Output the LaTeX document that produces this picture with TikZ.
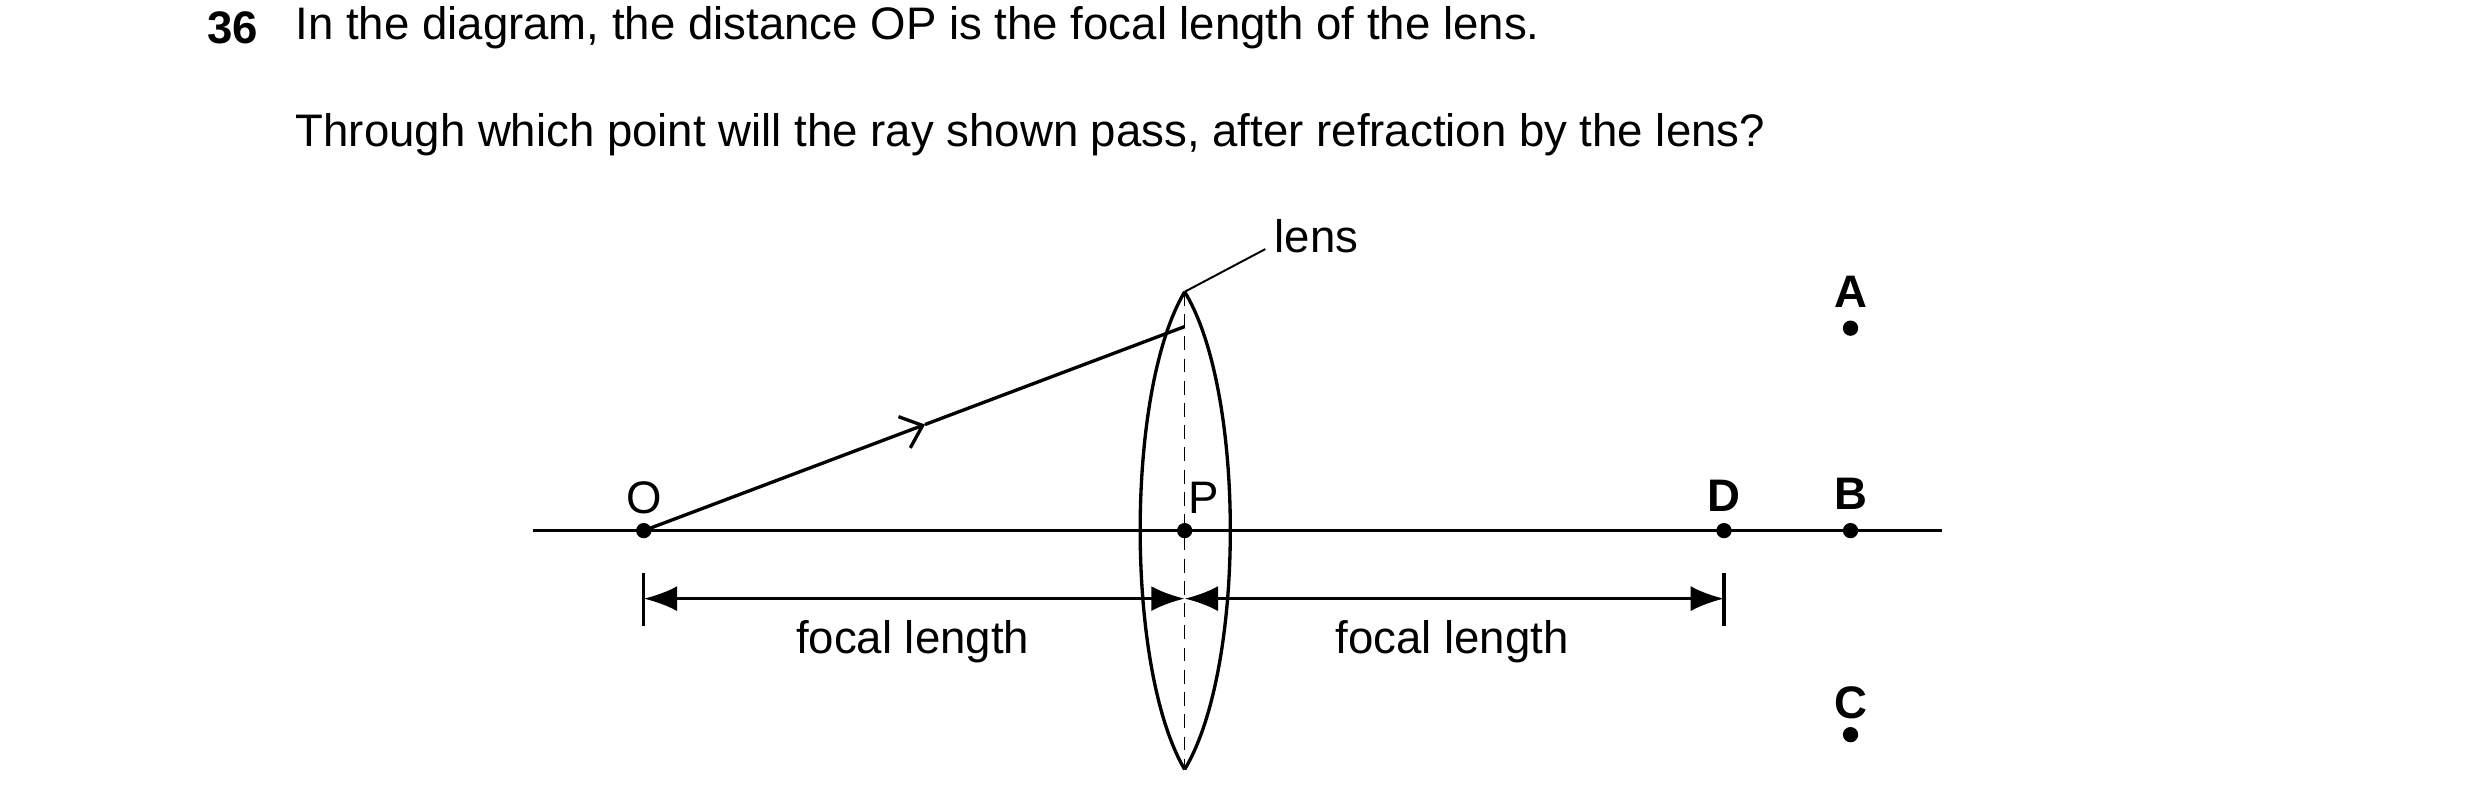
\documentclass[tikz,border=0pt]{standalone}
\usepackage{fontspec}
\setmainfont{Liberation Sans}
\usetikzlibrary{arrows.meta,calc}
\begin{document}
\begin{tikzpicture}[line width=1.2pt,
every node/.style={font=\fontsize{16.4}{19}\selectfont},
pt/.style={circle,fill=black,inner sep=0pt,minimum size=5.5pt},
lbl/.style={font=\fontsize{16.4}{19}\selectfont\bfseries}]
\useasboundingbox (0,-0.05) rectangle (31.36,10.15);
% question text
\node[lbl] (num) at (2.94,9.8) {36};
\node[anchor=west] (q1) at (3.6,9.8) {In the diagram, the distance OP is the focal length of the lens.};
\node[anchor=west] (q2) at (3.6,8.44) {Through which point will the ray shown pass, after refraction by the lens?};
% axis and points
\coordinate (axl) at (6.74,3.44);
\coordinate (axr) at (24.56,3.44);
\draw (axl) -- (axr);
\node[pt] (O) at (8.14,3.44) {};
\node[pt] (P) at (14.98,3.44) {};
\node[pt] (D) at (21.8,3.44) {};
\node[pt] (B) at (23.4,3.44) {};
\node[pt] (A) at (23.4,6.0) {};
\node[pt] (C) at (23.4,0.86) {};
\node (lO) at (8.14,3.86) {O};
\node (lP) at (15.22,3.86) {P};
\node[lbl] (lD) at (21.8,3.88) {D};
\node[lbl] (lB) at (23.4,3.9) {B};
\node[lbl] (lA) at (23.4,6.46) {A};
\node[lbl] (lC) at (23.4,1.26) {C};
% lens
\coordinate (ltop) at (14.98,6.46);
\coordinate (lbot) at (14.98,0.42);
\draw (ltop) .. controls (14.23,5.2) and (14.23,1.7) .. (lbot);
\draw (ltop) .. controls (15.75,5.2) and (15.75,1.7) .. (lbot);
\draw[dashed,line width=0.6pt,dash pattern=on 5pt off 3pt] (ltop) -- (lbot);
\coordinate (lead) at (16.0,7.0);
\draw[line width=0.7pt] (ltop) -- (lead);
\node[anchor=west] (lens) at (15.98,7.16) {lens};
% ray
\coordinate (hit) at (14.98,6.02);
\coordinate (mid) at ($(O)!0.52!(hit)$);
\draw[-{Straight Barb[length=7pt,width=12pt]}] (O.center) -- (mid);
\draw (mid) -- (hit);
% focal length markers
\draw (8.14,2.9) -- (8.14,2.24);
\draw (21.8,2.9) -- (21.8,2.24);
\draw[{Latex[length=12pt,width=9pt]}-{Latex[length=12pt,width=9pt]}] (8.14,2.58) -- (14.98,2.58);
\draw[{Latex[length=12pt,width=9pt]}-{Latex[length=12pt,width=9pt]}] (14.98,2.58) -- (21.8,2.58);
\node (f1) at (11.54,2.04) {focal length};
\node (f2) at (18.36,2.04) {focal length};
\end{tikzpicture}
\end{document}
